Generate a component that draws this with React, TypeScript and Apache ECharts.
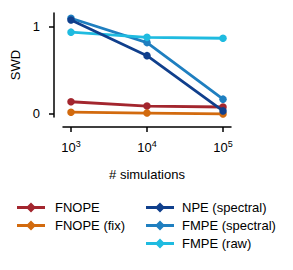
import React, { useEffect, useRef } from "react";
import * as echarts from "echarts";

const simulations = [3, 4, 5]; // log10(# simulations)
const seriesNames = ["FNOPE", "FNOPE (fix)", "NPE (spectral)", "FMPE (spectral)", "FMPE (raw)"];
const fnope = [0.14, 0.09, 0.08];
const fnopeFix = [0.02, 0.01, 0.0];
const npeSpectral = [1.08, 0.67, 0.035];
const fmpeSpectral = [1.1, 0.82, 0.17];
const fmpeRaw = [0.94, 0.88, 0.87];
const colors = ["#a3262e", "#d26a0e", "#103f8c", "#1f7fc0", "#1fbbe0"];
const yTicks = [0, 1];

const icon = "path://M0,3.6H10.5L14,0L17.5,3.6H28V6.4H17.5L14,10L10.5,6.4H0Z";

export default function App() {
  const ref = useRef<HTMLDivElement>(null);
  useEffect(() => {
    const chart = echarts.init(ref.current!, null, { renderer: "svg" });
    const values = [fnope, fnopeFix, npeSpectral, fmpeSpectral, fmpeRaw];
    const font = "Liberation Sans";
    chart.setOption({
      animation: false,
      textStyle: { fontFamily: font },
      grid: { left: 63, right: 293 - 231, top: 13, bottom: 270 - 117 },
      xAxis: {
        type: "value",
        min: 2.895,
        max: 5.105,
        offset: 10,
        axisLine: { onZero: false, lineStyle: { color: "#000", width: 1.5 } },
        axisTick: { customValues: simulations, length: 5, lineStyle: { color: "#000", width: 1.5 } },
        axisLabel: {
          customValues: simulations,
          margin: 12,
          formatter: (v: number) => `{b|10}{s|${Math.round(v)}}`,
          rich: {
            b: { fontSize: 13, color: "#000", fontFamily: font },
            s: { fontSize: 9, color: "#000", fontFamily: font, verticalAlign: "top", padding: [0, 0, 8, 0] },
          },
        },
        splitLine: { show: false },
        name: "# simulations",
        nameLocation: "middle",
        nameGap: 41,
        nameTextStyle: { fontSize: 13, color: "#000", fontFamily: font },
      },
      yAxis: {
        type: "value",
        min: -0.035,
        max: 1.16,
        offset: 9,
        axisLine: { show: true, onZero: false, lineStyle: { color: "#000", width: 1.5 } },
        axisTick: { show: true, customValues: yTicks, length: 5, lineStyle: { color: "#000", width: 1.5 } },
        axisLabel: { customValues: yTicks, fontSize: 13, color: "#000", margin: 14, fontFamily: font },
        splitLine: { show: false },
        name: "SWD",
        nameLocation: "middle",
        nameGap: 30,
        nameTextStyle: { fontSize: 13, color: "#000", fontFamily: font },
      },
      legend: [
        {
          orient: "vertical",
          left: 17,
          top: 201,
          padding: 0,
          itemWidth: 28,
          itemHeight: 10,
          itemGap: 5,
          icon,
          data: seriesNames.slice(0, 2),
          textStyle: { fontSize: 13, color: "#000", fontFamily: font, padding: [0, 0, 0, 5] },
        },
        {
          orient: "vertical",
          left: 146,
          top: 201,
          padding: 0,
          itemWidth: 32,
          itemHeight: 10,
          itemGap: 5,
          icon,
          data: seriesNames.slice(2),
          textStyle: { fontSize: 13, color: "#000", fontFamily: font, padding: [0, 0, 0, 1] },
        },
      ],
      series: seriesNames.map((name, i) => ({
        name,
        type: "line",
        data: simulations.map((x, j) => [x, values[i][j]]),
        color: colors[i],
        lineStyle: { width: 2.8 },
        symbol: "circle",
        symbolSize: 7.5,
        itemStyle: { color: colors[i] },
        z: i === 2 ? 5 : 2,
      })),
    });
    return () => chart.dispose();
  }, []);
  return <div ref={ref} style={{ width: 293, height: 270, position: "absolute", left: 0, top: 0 }} />;
}
